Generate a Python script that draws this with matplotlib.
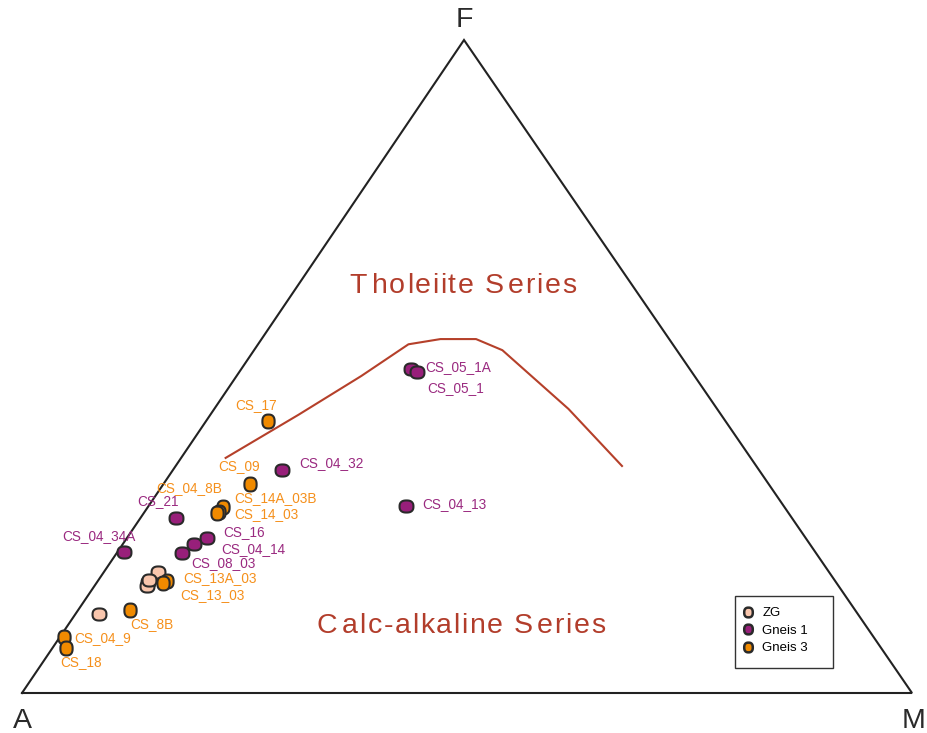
"""AFM ternary diagram: tholeiite vs calc-alkaline series, ZG / Gneis 1 / Gneis 3 samples."""
import matplotlib

matplotlib.use("Agg")
import matplotlib.pyplot as plt
import numpy as np
from matplotlib.font_manager import FontProperties, findfont, get_font
from matplotlib.lines import Line2D
from matplotlib.patches import Rectangle
from matplotlib.path import Path

plt.rcParams["font.family"] = ["Liberation Sans", "DejaVu Sans"]

FIG_DPI = 100
APEX_X = 442 / 890  # the F apex sits a touch left of the base midpoint

# ternary compositions in percent (A, F, M)
zg_a = [85.3, 77.3, 77.8, 75.3, 77.0]
zg_f = [12.1, 17.0, 16.4, 18.5, 17.3]
zg_m = [2.6, 5.7, 5.9, 6.1, 5.7]

g1_names = ["CS_05_1A", "CS_05_1", "CS_04_13", "CS_04_32", "CS_21",
            "CS_04_34A", "CS_16", "CS_04_14", "CS_08_03"]
g1_a = [31.3, 30.9, 42.5, 53.6, 69.2, 77.8, 67.2, 69.2, 71.2]
g1_f = [49.6, 49.2, 28.6, 34.2, 26.8, 21.6, 23.7, 22.8, 21.4]
g1_m = [19.1, 19.9, 28.9, 12.2, 4.0, 0.7, 9.0, 8.0, 7.4]

g3_names = ["CS_17", "CS_09", "CS_04_8B", "CS_14A_03B", "CS_14_03",
            "CS_13A_03", "CS_13_03", "CS_8B", "CS_04_9", "CS_18"]
g3_a = [51.4, 58.3, 63.1, 63.9, 64.2, 75.1, 75.6, 81.5, 91.0, 91.6]
g3_f = [41.7, 32.0, 28.5, 27.7, 27.6, 17.2, 16.8, 12.7, 8.6, 6.9]
g3_m = [6.9, 9.7, 8.5, 8.4, 8.2, 7.7, 7.5, 5.8, 0.4, 1.5]

# Irvine & Baragar style boundary
line_a = [59.0, 47.5, 37.4, 29.7, 25.7, 21.7, 19.6, 16.7, 15.1]
line_f = [36.0, 42.6, 48.5, 53.4, 54.2, 54.2, 52.5, 43.5, 34.8]
line_m = [5.0, 9.9, 14.0, 16.9, 20.1, 24.1, 27.9, 39.8, 50.2]

# label offsets in pixels (dx, dy) from each point
g1_offsets = [(14, 2), (11, -16), (17, 2), (18, 7), (-39, 17),
              (-61, 16), (16, 6), (27, -5), (9, -10)]
g3_offsets = [(-32, 16), (-32, 18), (-67, 19), (15, 14), (17, -1),
              (17, 3), (17, -12), (0, -14), (11, -1), (-6, -14)]

ZG_COLOR = "#f9c6ad"
G1_COLOR = "#981f7a"
G3_COLOR = "#f08a00"
G1_TEXT = "#9a2a80"
G3_TEXT = "#f5901c"
EDGE = "#2a2a2a"
SERIES_COLOR = "#b23d2b"


def to_xy(a, f, m):
    a, f, m = (np.asarray(v, dtype=float) for v in (a, f, m))
    total = a + f + m
    return m / total + APEX_X * f / total, f / total


def blob_marker(sx, sy, n=2.5):
    """Slightly squared-off ellipse marker like the original plotting software."""
    t = np.linspace(0, 2 * np.pi, 60)
    c, s = np.cos(t), np.sin(t)
    x = sx * np.sign(c) * np.abs(c) ** (2 / n)
    y = sy * np.sign(s) * np.abs(s) ** (2 / n)
    return Path(np.column_stack([x, y]), closed=True)


WIDE = blob_marker(1.0, 0.87)
TALL = blob_marker(0.88, 1.0)


def spaced_text(ax, xy, text, size, color, gap, cap_gap):
    """Draw text char by char with extra letter spacing, centred on xy."""
    prop = FontProperties(family="Liberation Sans", size=size)
    font = get_font(findfont(prop))
    font.set_size(size, FIG_DPI)
    advances = []
    for c in text:
        glyph = font.load_char(ord(c))
        adv = glyph.linearHoriAdvance / 65536
        advances.append(adv + gap + (cap_gap if c.isupper() else 0))
    total = sum(advances) - gap
    x = -total / 2
    for c, adv in zip(text, advances):
        if c != " ":
            ax.annotate(c, xy, xytext=(x, 0), textcoords="offset pixels",
                        ha="left", va="baseline", color=color,
                        fontproperties=prop)
        x += adv


def main():
    fig = plt.figure(figsize=(9.27, 7.33), dpi=FIG_DPI)
    ax = fig.add_axes([22 / 927, 40 / 733, 890 / 927, 653 / 733])
    ax.set_xlim(0, 1)
    ax.set_ylim(0, 1)
    ax.axis("off")

    # triangle
    tx, ty = to_xy([100, 0, 0, 100], [0, 0, 100, 0], [0, 100, 0, 0])
    ax.plot(tx, ty, color="#222222", lw=1.5, clip_on=False, solid_joinstyle="miter")

    lx, ly = to_xy(line_a, line_f, line_m)
    ax.plot(lx, ly, color="#b5402a", lw=1.5, clip_on=False)

    zx, zy = to_xy(zg_a, zg_f, zg_m)
    ax.plot(zx, zy, ls="none", marker=WIDE, ms=10, mfc=ZG_COLOR, mec=EDGE,
            mew=1.5, clip_on=False, zorder=3)
    g1x, g1y = to_xy(g1_a, g1_f, g1_m)
    ax.plot(g1x, g1y, ls="none", marker=WIDE, ms=10, mfc=G1_COLOR, mec=EDGE,
            mew=1.5, clip_on=False, zorder=3)
    g3x, g3y = to_xy(g3_a, g3_f, g3_m)
    ax.plot(g3x, g3y, ls="none", marker=TALL, ms=10, mfc=G3_COLOR, mec=EDGE,
            mew=1.5, clip_on=False, zorder=4)

    for name, x, y, off in zip(g1_names, g1x, g1y, g1_offsets):
        ax.annotate(name, (x, y), xytext=off, textcoords="offset pixels",
                    ha="left", va="center", fontsize=9.8, color=G1_TEXT)
    for name, x, y, off in zip(g3_names, g3x, g3y, g3_offsets):
        ax.annotate(name, (x, y), xytext=off, textcoords="offset pixels",
                    ha="left", va="center", fontsize=9.8, color=G3_TEXT)

    # vertex labels
    vx, vy = to_xy([100, 0, 0], [0, 100, 0], [0, 0, 100])
    vert_style = [("A", (0, -28), "center"), ("F", (0, 20), "center"),
                  ("M", (14, -28), "right")]
    for (lab, off, ha), x, y in zip(vert_style, vx, vy):
        ax.annotate(lab, (x, y), xytext=off, textcoords="offset pixels",
                    ha=ha, va="center", fontsize=20.5, color="#2a2a2a",
                    annotation_clip=False)

    spaced_text(ax, (0.4955, 0.6126), "Tholeiite Series", 20.5, SERIES_COLOR, 1.6, 3)
    spaced_text(ax, (0.4933, 0.0919), "Calc-alkaline Series", 20.5, SERIES_COLOR, 1.6, 3)

    # legend box
    ax.add_patch(Rectangle((0.801, 0.0383), 0.110, 0.110, transform=ax.transAxes,
                           fill=False, ec="#333333", lw=1, clip_on=False))
    handles = [
        Line2D([], [], ls="none", marker=TALL, ms=7, mfc=c, mec=EDGE, mew=1.8)
        for c in (ZG_COLOR, G1_COLOR, G3_COLOR)
    ]
    ax.legend(handles, ["ZG", "Gneis 1", "Gneis 3"], loc="upper left",
              bbox_to_anchor=(0.8083, 0.1316), frameon=False, fontsize=9.5,
              handlelength=1.0, handletextpad=0.6, labelspacing=0.4, borderpad=0,
              borderaxespad=0)

    fig.savefig("out.png", dpi=FIG_DPI)
    plt.close(fig)


if __name__ == "__main__":
    main()
